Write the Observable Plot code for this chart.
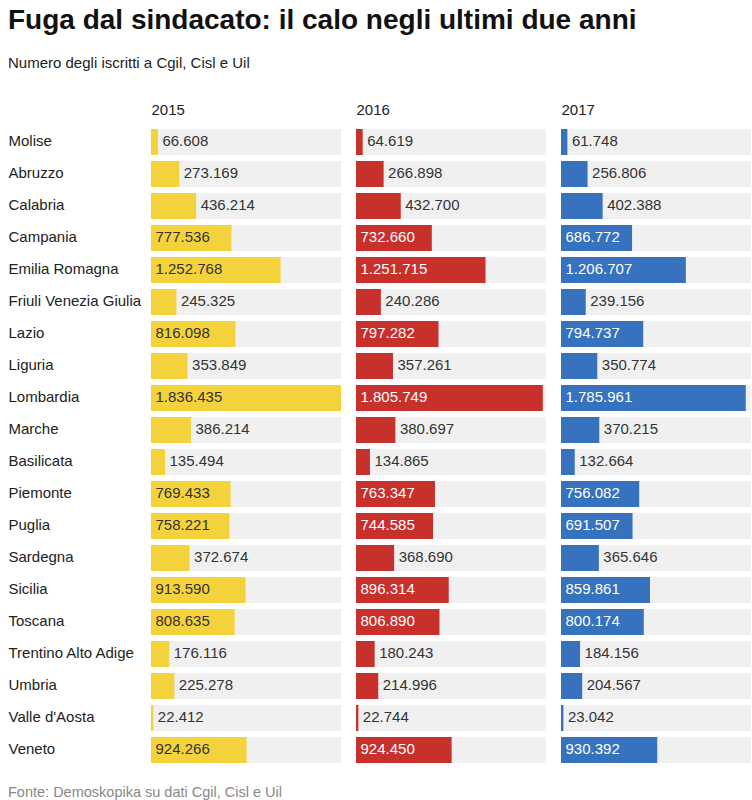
<!DOCTYPE html>
<html><head><meta charset="utf-8">
<script src="https://cdn.jsdelivr.net/npm/d3@7"></script>
<script src="https://cdn.jsdelivr.net/npm/@observablehq/plot@0.6"></script>
<style>
body{margin:0;background:#fff;font-family:"Liberation Sans",Arial,sans-serif;color:#222;width:752px;}
#title{height:44px;line-height:40px;padding-left:8px;font-size:28px;font-weight:bold;color:#111;white-space:nowrap;}
#sub{height:46px;line-height:38px;padding-left:8px;font-size:15px;color:#222;}
#chart svg{display:block;}
#foot{padding-left:8px;padding-top:14px;font-size:14.5px;line-height:16px;color:#888;}
</style>
</head><body>
<div id="title">Fuga dal sindacato: il calo negli ultimi due anni</div>
<div id="sub">Numero degli iscritti a Cgil, Cisl e Uil</div>
<div id="chart"></div>
<div id="foot">Fonte: Demoskopika su dati Cgil, Cisl e Uil</div>
<script>
const regions = ["Molise","Abruzzo","Calabria","Campania","Emilia Romagna","Friuli Venezia Giulia","Lazio","Liguria","Lombardia","Marche","Basilicata","Piemonte","Puglia","Sardegna","Sicilia","Toscana","Trentino Alto Adige","Umbria","Valle d'Aosta","Veneto"];
const years = ["2015","2016","2017"];
const v2015 = [66608,273169,436214,777536,1252768,245325,816098,353849,1836435,386214,135494,769433,758221,372674,913590,808635,176116,225278,22412,924266];
const v2016 = [64619,266898,432700,732660,1251715,240286,797282,357261,1805749,380697,134865,763347,744585,368690,896314,806890,180243,214996,22744,924450];
const v2017 = [61748,256806,402388,686772,1206707,239156,794737,350774,1785961,370215,132664,756082,691507,365646,859861,800174,184156,204567,23042,930392];
const colors = ["#F4D23B","#C8302C","#3672BE"];

const series = [v2015, v2016, v2017];
const data = years.flatMap((yr, i) => regions.map((r, j) => ({year: yr, region: r, value: series[i][j]})));
const maxV = d3.max(data, d => d.value);
const fmt = d3.formatLocale({decimal: ",", thousands: ".", grouping: [3], currency: ["€", ""]}).format(",d");
const threshold = 500000;
const inside = data.filter(d => d.value > threshold);
const outside = data.filter(d => d.value <= threshold);

const chart = Plot.plot({
  width: 752, height: 680,
  marginTop: 37, marginBottom: 6, marginLeft: 151, marginRight: 1,
  style: {fontFamily: "'Liberation Sans', Arial, sans-serif", fontSize: "15px", color: "#222", background: "#fff"},
  fx: {domain: years, paddingInner: 15 / 205, paddingOuter: 0, axis: null},
  x: {domain: [0, maxV], axis: null},
  y: {domain: regions, paddingInner: 0.19, paddingOuter: 0, axis: null},
  color: {domain: years, range: colors},
  marks: [
    Plot.barX(data, {fx: "year", y: "region", x1: d => 0, x2: d => maxV, fill: "#f0f0f0"}),
    Plot.barX(data, {fx: "year", y: "region", x: "value", fill: "year"}),
    Plot.text(inside.filter(d => d.year === "2015"), {fx: "year", y: "region", x: d => 0, text: d => fmt(d.value), textAnchor: "start", dx: 4, dy: -1.5, fill: "#333", fontSize: 15}),
    Plot.text(inside.filter(d => d.year !== "2015"), {fx: "year", y: "region", x: d => 0, text: d => fmt(d.value), textAnchor: "start", dx: 4, dy: -1.5, fill: "#fff", fontSize: 15}),
    Plot.text(outside, {fx: "year", y: "region", x: "value", text: d => fmt(d.value), textAnchor: "start", dx: 4, dy: -1.5, fill: "#333", fontSize: 15}),
    Plot.text(years, {fx: d => d, text: d => d, frameAnchor: "top-left", lineAnchor: "middle", dy: -17, fill: "#222", fontSize: 15}),
    Plot.text(regions, {fx: d => years[0], y: d => d, text: d => d, frameAnchor: "left", textAnchor: "start", dx: -143, dy: -1.5, fill: "#222", fontSize: 15})
  ]
});
document.getElementById("chart").appendChild(chart);
</script>
</body></html>
